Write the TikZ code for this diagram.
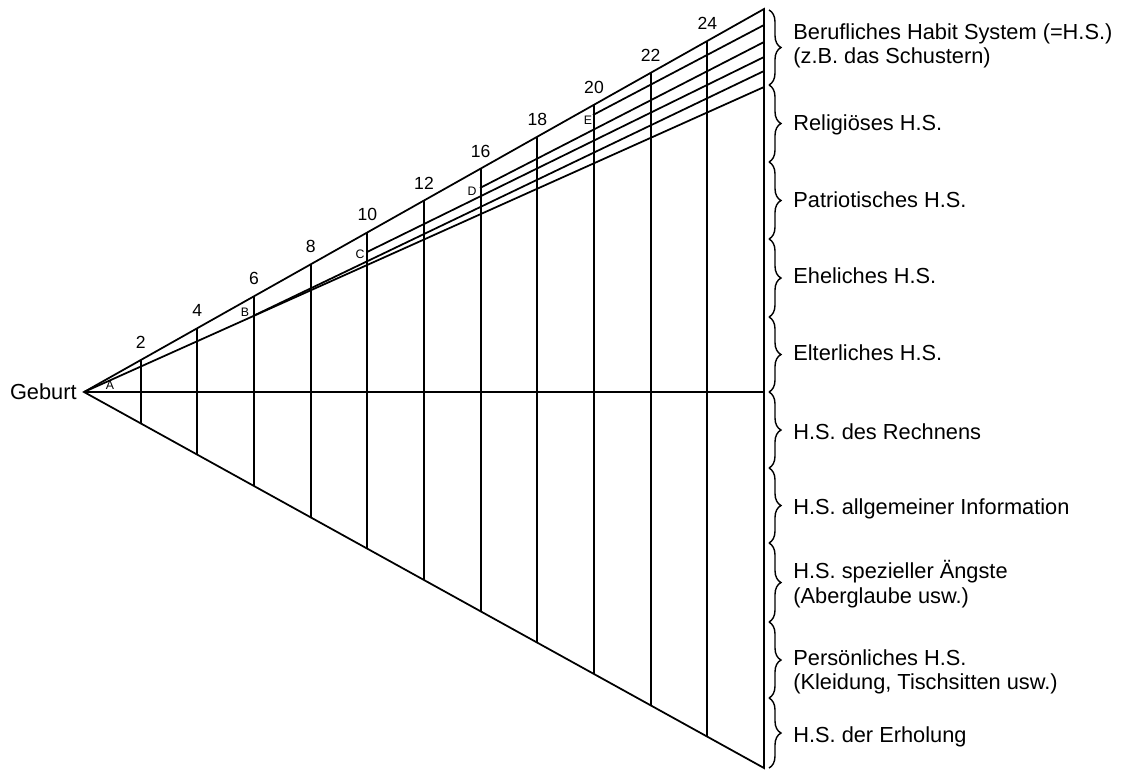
\documentclass[tikz,border=0pt]{standalone}
\usepackage{fontspec}
\setmainfont{Liberation Sans}
\usetikzlibrary{calc,decorations.pathreplacing}
\tikzset{
habitline/.style={draw=black, line width=1pt},
habitbrace/.style={draw=black, line width=0.8pt, decorate, decoration={brace, amplitude=0.24cm}},
habitlabel/.style={anchor=west, align=left, inner sep=0pt, font=\fontsize{12.4}{14}\selectfont},
agelabel/.style={anchor=south, inner sep=0pt, yshift=0.22cm, font=\fontsize{10}{12}\selectfont},
pointlabel/.style={inner sep=0pt, font=\fontsize{7}{8}\selectfont}
}

\begin{document}
\begin{tikzpicture}[x=0.02cm, y=-0.02cm]
  \useasboundingbox (0,0) rectangle (1125,769);
  % fan of the habit systems
  \coordinate (birth) at (84,392);
  \coordinate (topend) at (764,9);
  \coordinate (botend) at (764,768);
  \coordinate (midend) at (764,392);
  \coordinate (pB) at (253,316);
  \coordinate (pC) at (367,252);
  \coordinate (pD) at (480,188);
  \coordinate (pE) at (593,115);
  \coordinate (endA) at (764,87);
  \coordinate (endB) at (764,71);
  \coordinate (endC) at (764,57);
  \coordinate (endD) at (764,42);
  \coordinate (endE) at (764,25);
  \draw[habitline] (topend) -- (birth) -- (botend) -- cycle;
  \draw[habitline] (birth) -- (midend);
  \foreach \k/\age in {1/2,2/4,3/6,4/8,5/10,6/12,7/16,8/18,9/20,10/22,11/24} {
    \draw[habitline] ($(birth)!\k/12!(topend)$) -- ($(birth)!\k/12!(botend)$);
    \node[agelabel] (age\age) at ($(birth)!\k/12!(topend)$) {\age};
  }
  \draw[habitline] (birth) -- (endA);
  \draw[habitline] (pB) -- (endB);
  \draw[habitline] (pC) -- (endC);
  \draw[habitline] (pD) -- (endD);
  \draw[habitline] (pE) -- (endE);
  \node[habitlabel, anchor=east, xshift=-0.14cm] (geburt) at (birth) {Geburt};
  \node[pointlabel] (labA) at (110,385) {A};
  \node[pointlabel] (labB) at (245,312) {B};
  \node[pointlabel] (labC) at (360,254) {C};
  \node[pointlabel] (labD) at (472,191) {D};
  \node[pointlabel] (labE) at (588,120) {E};
  % braces and systems
  \foreach \a/\b in {10/85,85/162,162/239,239/317,317/392,392/468,468/543,543/622,622/698,698/768}
    \draw[habitbrace] (769,\a) -- (769,\b);
  \node[habitlabel] (hs1) at (793,46) {Berufliches Habit System (=H.S.)\\(z.B. das Schustern)};
  \node[habitlabel] (hs2) at (793,125) {Religiöses H.S.};
  \node[habitlabel] (hs3) at (793,200) {Patriotisches H.S.};
  \node[habitlabel] (hs4) at (793,276) {Eheliches H.S.};
  \node[habitlabel] (hs5) at (793,353) {Elterliches H.S.};
  \node[habitlabel] (hs6) at (793,432) {H.S. des Rechnens};
  \node[habitlabel] (hs7) at (793,509) {H.S. allgemeiner Information};
  \node[habitlabel] (hs8) at (793,584) {H.S. spezieller Ängste\\(Aberglaube usw.)};
  \node[habitlabel] (hs9) at (793,672) {Persönliches H.S.\\(Kleidung, Tischsitten usw.)};
  \node[habitlabel] (hs10) at (793,737) {H.S. der Erholung};
\end{tikzpicture}
\end{document}
